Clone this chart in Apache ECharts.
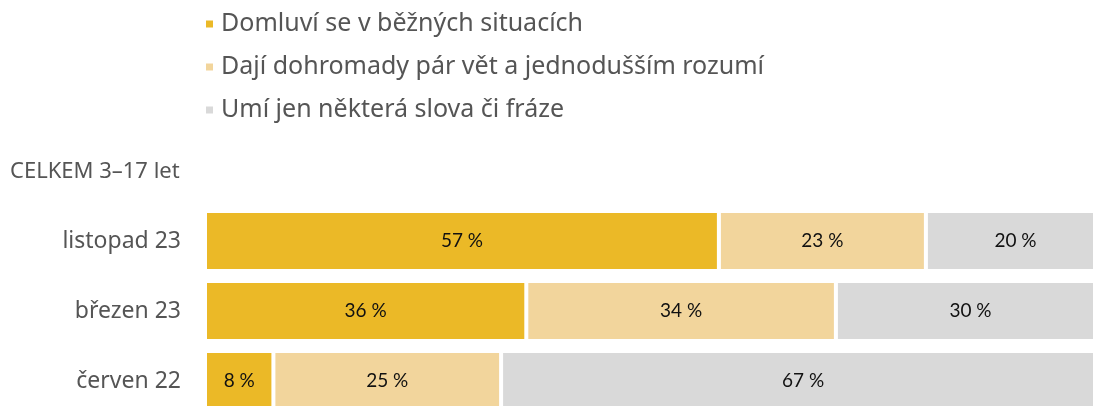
<!DOCTYPE html>
<html>
<head>
<meta charset="utf-8">
<script src="https://cdn.jsdelivr.net/npm/echarts@6/dist/echarts.min.js"></script>
<style>
  html, body { margin: 0; padding: 0; background: #fff; }
  #chart { width: 1093px; height: 406px; }
</style>
</head>
<body>
<div id="chart"></div>
<script>
const categories = ['listopad 23', 'březen 23', 'červen 22']
const seriesNames = [
  'Domluví se v běžných situacích',
  'Dají dohromady pár vět a jednodušším rozumí',
  'Umí jen některá slova či fráze'
]
// labels show rounded values
const fluent = [57.1, 35.7, 7.6]
const basic = [23.0, 34.4, 25.3]
const wordsOnly = [19.9, 29.9, 67.1]
const colors = ['#ebb927', '#f2d59c', '#d9d9d9']

const font = 'Noto Sans, sans-serif'
const chart = echarts.init(document.getElementById('chart'))

function makeSeries(name, data, i) {
  return {
    name,
    type: 'bar',
    stack: 'total',
    data,
    barWidth: 60,
    itemStyle: { color: colors[i], borderColor: '#fff', borderWidth: 2 },
    label: {
      show: true,
      position: 'inside',
      formatter: p => Math.round(p.value) + ' %',
      color: '#111',
      fontFamily: 'Lato, sans-serif',
      fontSize: 19
    }
  }
}

chart.setOption({
  animation: false,
  color: colors,
  title: {
    text: 'CELKEM 3–17 let',
    left: 5,
    top: 156,
    textStyle: { color: '#555', fontFamily: font, fontSize: 22, fontWeight: 'normal' }
  },
  legend: {
    orient: 'vertical',
    left: 204,
    top: 11,
    padding: 0,
    icon: 'rect',
    itemWidth: 9,
    itemHeight: 9,
    itemGap: 17,
    textStyle: { color: '#555', fontFamily: font, fontSize: 25, lineHeight: 26, padding: [0, 0, 0, 2] }
  },
  grid: { left: 205, top: 206, width: 900, height: 210, outerBoundsMode: 'none', containLabel: false },
  xAxis: { type: 'value', min: 0, max: 100, show: false },
  yAxis: {
    type: 'category',
    data: categories,
    inverse: true,
    axisLine: { show: false },
    axisTick: { show: false },
    axisLabel: { color: '#555', fontFamily: font, fontSize: 23, margin: 24 }
  },
  series: [
    makeSeries(seriesNames[0], fluent, 0),
    makeSeries(seriesNames[1], basic, 1),
    makeSeries(seriesNames[2], wordsOnly, 2)
  ]
})
</script>
</body>
</html>
